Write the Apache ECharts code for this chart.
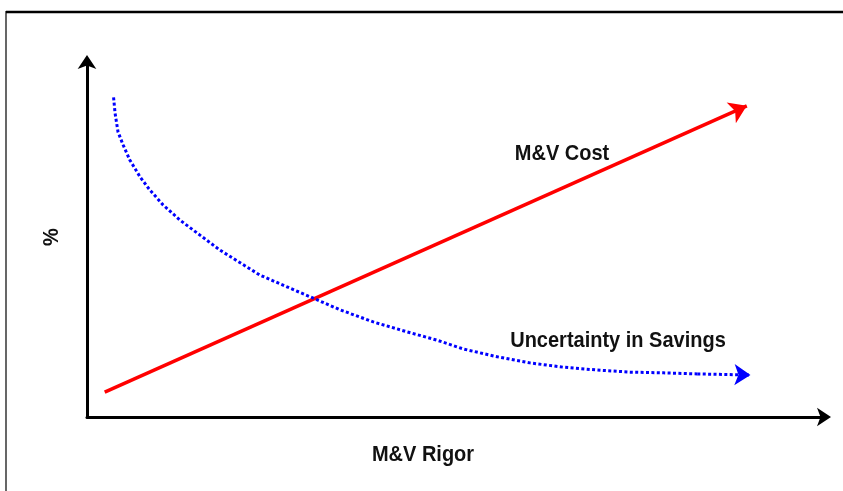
<!DOCTYPE html>
<html>
<head>
<meta charset="utf-8">
<style>
  html, body { margin: 0; padding: 0; background: #fff; }
  #main { width: 843px; height: 491px; }
</style>
<script src="https://cdn.jsdelivr.net/npm/echarts@6/dist/echarts.min.js"></script>
</head>
<body>
<div id="main"></div>
<script>
// M&V cost rises straight with rigor
var costX = [2.4, 89.4];
var costY = [7.0, 87.4];
// uncertainty in savings falls off with rigor
var uncertX = [3.6, 3.8, 4.2, 4.9, 5.8, 7.2, 8.5, 10.3, 12.6, 15.3, 18.0, 21.7, 23.4, 27.5, 31.2, 34.3, 38.8, 43.4, 47.4, 51.0, 55.6, 60.0, 64.5, 69.1, 73.6, 78.1, 82.7, 89.9];
var uncertY = [89.8, 85.4, 80.1, 76.4, 72.2, 67.4, 63.8, 59.6, 55.3, 51.1, 46.9, 42.1, 39.9, 36.2, 32.9, 30.1, 26.7, 23.9, 21.6, 19.1, 16.9, 15.2, 14.0, 13.2, 12.6, 12.4, 12.1, 11.8];

function pairs(xs, ys) {
  var out = [];
  for (var i = 0; i < xs.length; i++) out.push([xs[i], ys[i]]);
  return out;
}

var myChart = echarts.init(document.getElementById('main'));
var axisLine = {
  show: true,
  symbol: ['none', 'arrow'],
  symbolSize: [14, 14],
  symbolOffset: [0, 6],
  lineStyle: { color: '#000', width: 3 }
};
var labelFont = { fontFamily: 'Liberation Sans, Arial, sans-serif', fontWeight: 'bold', fontSize: 20, fill: '#111' };
function label(txt, x, y, rot) {
  return {
    type: 'text', x: x, y: y, rotation: rot || 0, scaleY: 1.1,
    style: Object.assign({ text: txt, align: 'center', verticalAlign: 'middle' }, labelFont)
  };
}

var uncertPts = pairs(uncertX, uncertY);
var n = uncertPts.length;
var dots = [3, 2.4];

myChart.setOption({
  animation: false,
  grid: { left: 87, right: 18, top: 61, bottom: 74 },
  xAxis: {
    type: 'value', min: 0, max: 100,
    axisLine: axisLine,
    axisTick: { show: false }, axisLabel: { show: false }, splitLine: { show: false }
  },
  yAxis: {
    type: 'value', min: 0, max: 100,
    axisLine: axisLine,
    axisTick: { show: false }, axisLabel: { show: false }, splitLine: { show: false }
  },
  graphic: [
    { type: 'line', shape: { x1: 6, y1: 12, x2: 843, y2: 12 }, style: { stroke: '#000', lineWidth: 2.5 } },
    { type: 'line', shape: { x1: 6, y1: 11, x2: 6, y2: 491 }, style: { stroke: '#000', lineWidth: 1.2 } },
    label('M&V Cost', 562, 154),
    label('Uncertainty in Savings', 618, 341),
    label('M&V Rigor', 423, 455),
    label('%', 52, 237, Math.PI / 2)
  ],
  series: [
    {
      name: 'M&V Cost',
      type: 'lines',
      coordinateSystem: 'cartesian2d',
      symbol: ['none', 'arrow'],
      symbolSize: 17,
      lineStyle: { color: '#ff0000', width: 3.5, opacity: 1 },
      data: [{ coords: pairs(costX, costY) }]
    },
    {
      name: 'Uncertainty in Savings',
      type: 'lines',
      coordinateSystem: 'cartesian2d',
      polyline: true,
      lineStyle: { color: '#0000ff', width: 3, type: dots, opacity: 1 },
      data: [{ coords: uncertPts.slice(0, n - 1) }]
    },
    {
      // last stretch of the curve, carries the arrow head
      name: 'Uncertainty in Savings',
      type: 'lines',
      coordinateSystem: 'cartesian2d',
      symbol: ['none', 'arrow'],
      symbolSize: 16,
      lineStyle: { color: '#0000ff', width: 3, type: dots, opacity: 1 },
      data: [{ coords: uncertPts.slice(n - 2) }]
    }
  ]
});
</script>
</body>
</html>
